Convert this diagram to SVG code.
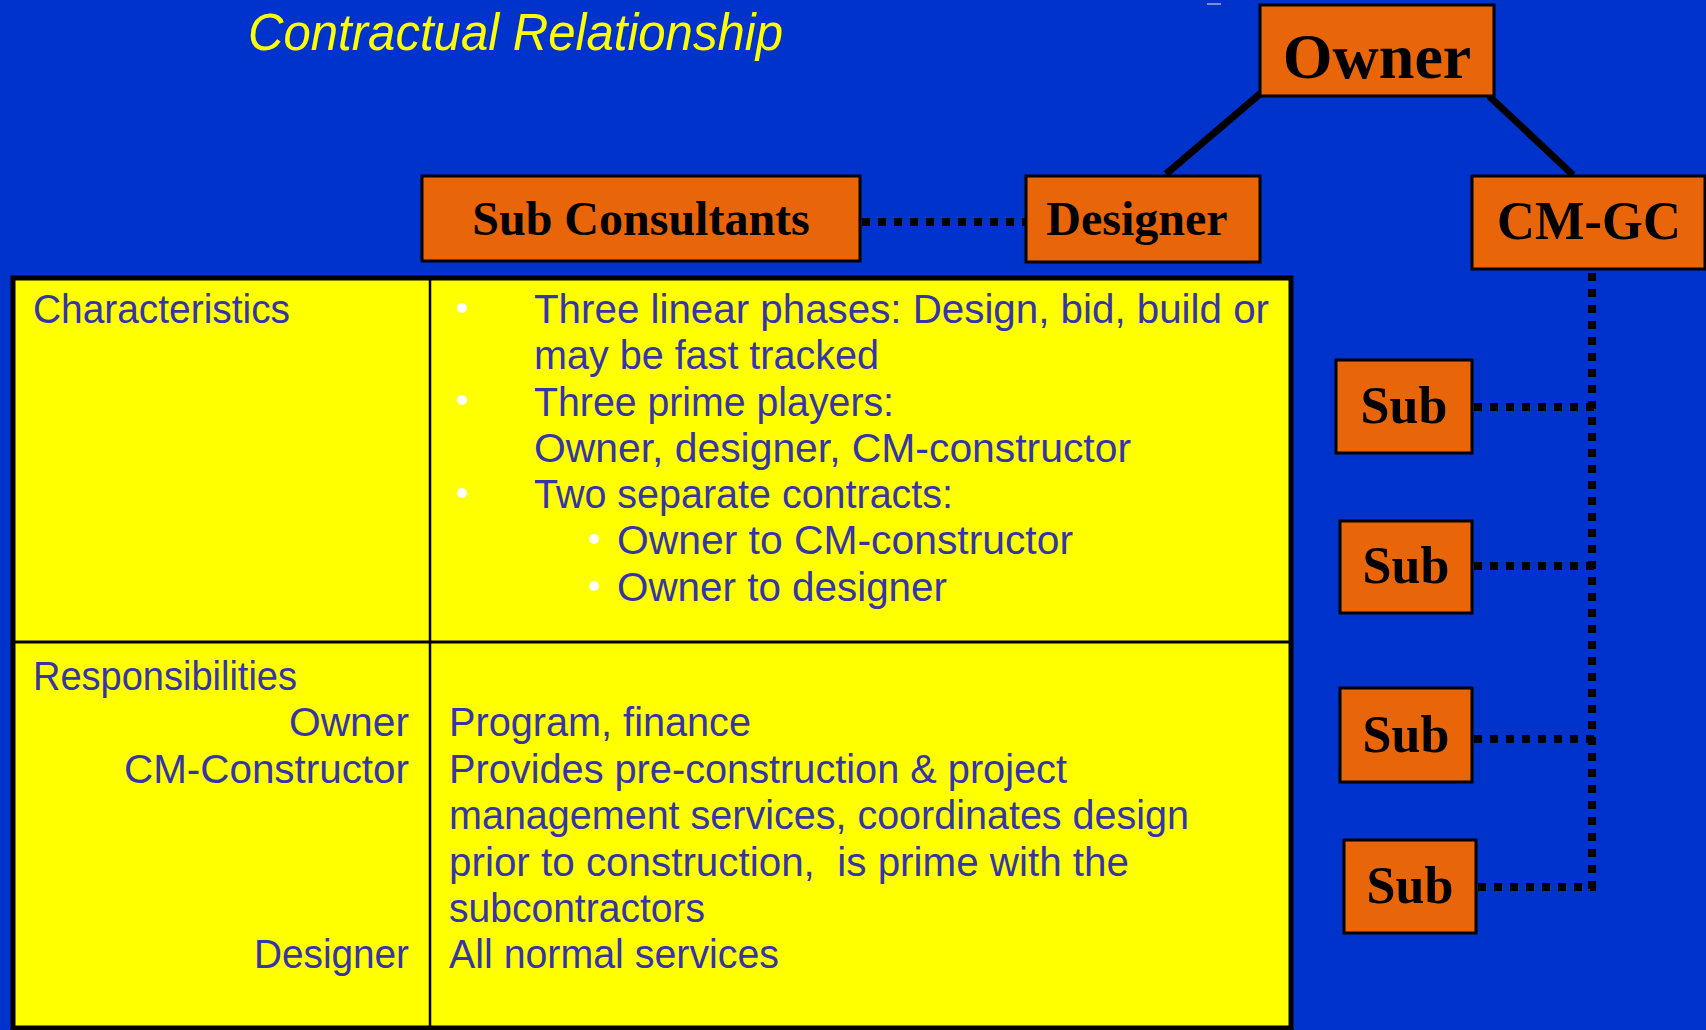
<svg xmlns="http://www.w3.org/2000/svg" width="1706" height="1030" viewBox="0 0 1706 1030">
<style>
.bg{fill:#0033cc}
.box{fill:#e96509;stroke:#000;stroke-width:3}
.nt{font-family:"Liberation Serif","Times New Roman",serif;font-weight:bold;fill:#000;text-anchor:middle}
.solid{stroke:#000;stroke-width:7;fill:none}
.dot{stroke:#000;stroke-width:8;stroke-dasharray:8 8;fill:none}
.tt{font-family:"Liberation Sans",Arial,sans-serif;font-size:40px;fill:#3535a8}
.r{text-anchor:end}
.bul{fill:#ffffff}
.title{font-family:"Liberation Sans",Arial,sans-serif;font-style:italic;font-size:52px;fill:#ffff00}
</style>
<rect class="bg" x="0" y="0" width="1706" height="1030"/>
<line x1="1207" y1="4" x2="1221" y2="4" stroke="#7f8fd0" stroke-width="2"/>
<text class="title" x="248" y="50" textLength="535" lengthAdjust="spacingAndGlyphs">Contractual Relationship</text>

<g id="connectors">
<line class="solid" x1="1261" y1="93" x2="1166" y2="174"/>
<line class="solid" x1="1489" y1="96" x2="1573" y2="175"/>
<line class="dot" x1="862" y1="222" x2="1026" y2="222"/>
<line class="dot" x1="1592" y1="273" x2="1592" y2="891"/>
<line class="dot" x1="1474" y1="407" x2="1596" y2="407"/>
<line class="dot" x1="1474" y1="566" x2="1596" y2="566"/>
<line class="dot" x1="1474" y1="739" x2="1596" y2="739"/>
<line class="dot" x1="1478" y1="887" x2="1596" y2="887"/>
</g>

<g id="owner">
<rect class="box" x="1260" y="5" width="234" height="91"/>
<text class="nt" x="1377" y="78" font-size="64">Owner</text>
</g>
<g id="subconsultants">
<rect class="box" x="422" y="176" width="438" height="85"/>
<text class="nt" x="641" y="235" font-size="48">Sub Consultants</text>
</g>
<g id="designer">
<rect class="box" x="1026" y="176" width="234" height="86"/>
<text class="nt" x="1137" y="235" font-size="48">Designer</text>
</g>
<g id="cmgc">
<rect class="box" x="1472" y="176" width="233" height="93"/>
<text class="nt" x="1589" y="239" font-size="55" textLength="184" lengthAdjust="spacingAndGlyphs">CM-GC</text>
</g>
<g id="sub1">
<rect class="box" x="1336" y="360" width="136" height="93"/>
<text class="nt" x="1404" y="423" font-size="52">Sub</text>
</g>
<g id="sub2">
<rect class="box" x="1340" y="521" width="132" height="92"/>
<text class="nt" x="1406" y="583" font-size="52">Sub</text>
</g>
<g id="sub3">
<rect class="box" x="1340" y="688" width="132" height="94"/>
<text class="nt" x="1406" y="752" font-size="52">Sub</text>
</g>
<g id="sub4">
<rect class="box" x="1344" y="840" width="132" height="93"/>
<text class="nt" x="1410" y="903" font-size="52">Sub</text>
</g>

<g id="table">
<rect x="13" y="278" width="1278" height="750" fill="#ffff00" stroke="#000" stroke-width="5"/>
<line x1="430" y1="278" x2="430" y2="1028" stroke="#000" stroke-width="2.5"/>
<line x1="13" y1="642" x2="1291" y2="642" stroke="#000" stroke-width="3"/>

<text class="tt" x="33" y="323" textLength="257" lengthAdjust="spacingAndGlyphs">Characteristics</text>
<circle class="bul" cx="462" cy="308" r="5"/>
<text class="tt" x="534" y="323" textLength="735" lengthAdjust="spacingAndGlyphs">Three linear phases: Design, bid, build or</text>
<text class="tt" x="534" y="369" textLength="345" lengthAdjust="spacingAndGlyphs">may be fast tracked</text>
<circle class="bul" cx="462" cy="400" r="5"/>
<text class="tt" x="534" y="416" textLength="360" lengthAdjust="spacingAndGlyphs">Three prime players:</text>
<text class="tt" x="534" y="462" textLength="597" lengthAdjust="spacingAndGlyphs">Owner, designer, CM-constructor</text>
<circle class="bul" cx="462" cy="493" r="5"/>
<text class="tt" x="534" y="508" textLength="419" lengthAdjust="spacingAndGlyphs">Two separate contracts:</text>
<circle class="bul" cx="594" cy="539" r="5"/>
<text class="tt" x="617" y="554" textLength="456" lengthAdjust="spacingAndGlyphs">Owner to CM-constructor</text>
<circle class="bul" cx="594" cy="586" r="5"/>
<text class="tt" x="617" y="601" textLength="330" lengthAdjust="spacingAndGlyphs">Owner to designer</text>

<text class="tt" x="33" y="690" textLength="264" lengthAdjust="spacingAndGlyphs">Responsibilities</text>
<text class="tt r" x="409" y="736" textLength="120" lengthAdjust="spacingAndGlyphs">Owner</text>
<text class="tt r" x="409" y="783" textLength="285" lengthAdjust="spacingAndGlyphs">CM-Constructor</text>
<text class="tt r" x="409" y="968" textLength="155" lengthAdjust="spacingAndGlyphs">Designer</text>
<text class="tt" x="449" y="736" textLength="302" lengthAdjust="spacingAndGlyphs">Program, finance</text>
<text class="tt" x="449" y="783" textLength="618" lengthAdjust="spacingAndGlyphs">Provides pre-construction &amp; project</text>
<text class="tt" x="449" y="829" textLength="740" lengthAdjust="spacingAndGlyphs">management services, coordinates design</text>
<text class="tt" x="449" y="876" textLength="680" lengthAdjust="spacingAndGlyphs" xml:space="preserve">prior to construction,  is prime with the</text>
<text class="tt" x="449" y="922" textLength="256" lengthAdjust="spacingAndGlyphs">subcontractors</text>
<text class="tt" x="449" y="968" textLength="330" lengthAdjust="spacingAndGlyphs">All normal services</text>
</g>
</svg>
